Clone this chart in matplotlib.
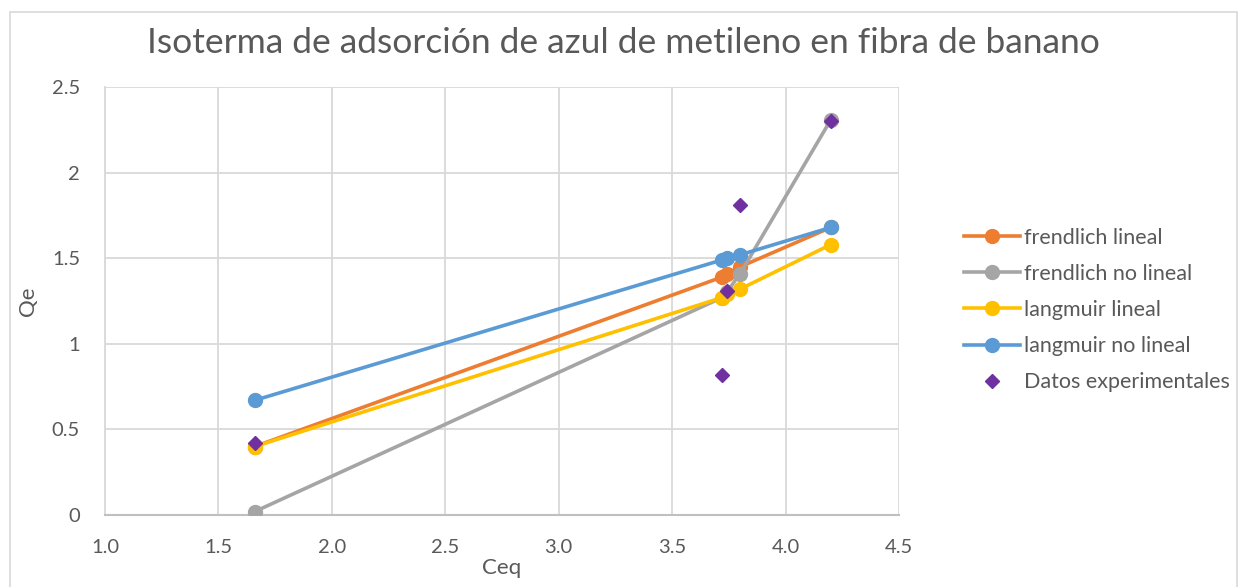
import matplotlib.pyplot as plt
from matplotlib.patches import Rectangle

plt.rcParams['font.family'] = ['Lato', 'DejaVu Sans']

# Data
ceq = [1.66, 3.72, 3.74, 3.80, 4.20]
frendlich_lineal = [0.40, 1.39, 1.41, 1.45, 1.68]
frendlich_no_lineal = [0.02, 1.27, 1.30, 1.41, 2.31]
langmuir_lineal = [0.40, 1.27, 1.29, 1.32, 1.58]
langmuir_no_lineal = [0.67, 1.49, 1.50, 1.52, 1.68]
datos_exp = [0.42, 0.82, 1.31, 1.81, 2.30]

series = [
    ("frendlich lineal", frendlich_lineal, "#ED7D31"),
    ("frendlich no lineal", frendlich_no_lineal, "#A5A5A5"),
    ("langmuir lineal", langmuir_lineal, "#FFC000"),
    ("langmuir no lineal", langmuir_no_lineal, "#5B9BD5"),
]

fig = plt.figure(figsize=(12.47, 5.87), dpi=100)
ax = fig.add_axes([105 / 1247, 1 - 515 / 587, 794 / 1247, 428 / 587])

# chart border
fig.patches.append(Rectangle((10 / 1247, -0.1), 1 - 20 / 1247, 1.1 - 12 / 587,
                             transform=fig.transFigure, fill=False,
                             edgecolor="#d9d9d9", linewidth=1.2))

for name, vals, col in series:
    ax.plot(ceq, vals, color=col, linewidth=2.6, marker="o", markersize=10,
            label=name, zorder=3)
ax.plot(ceq, datos_exp, linestyle="none", marker="D", markersize=7,
        color="#7030A0", label="Datos experimentales", zorder=4)

ax.set_xlim(1.0, 4.5)
ax.set_ylim(0, 2.5)
ax.set_xticks([1.0, 1.5, 2.0, 2.5, 3.0, 3.5, 4.0, 4.5])
ax.set_xticklabels(["1.0", "1.5", "2.0", "2.5", "3.0", "3.5", "4.0", "4.5"])
ax.set_yticks([0, 0.5, 1, 1.5, 2, 2.5])
ax.set_yticklabels(["0", "0.5", "1", "1.5", "2", "2.5"])
ax.grid(True, color="#d9d9d9", linewidth=1.3)
ax.set_axisbelow(True)
for s in ["top", "right"]:
    ax.spines[s].set_visible(False)
ax.spines["left"].set_color("#d9d9d9")
ax.spines["left"].set_linewidth(1.3)
ax.spines["bottom"].set_color("#bfbfbf")
ax.spines["bottom"].set_linewidth(1.5)
ax.tick_params(axis="x", length=0, labelsize=14.5, labelcolor="#595959", pad=17)
ax.tick_params(axis="y", length=0, labelsize=14.5, labelcolor="#595959", pad=18)

ax.set_xlabel("Ceq", fontsize=16, color="#595959", labelpad=2)
ax.set_ylabel("Qe", fontsize=16, color="#595959", labelpad=10)
fig.text(0.5, 1 - 43 / 587, "Isoterma de adsorción de azul de metileno en fibra de banano",
         ha="center", va="center", fontsize=25.5, color="#595959")

leg = ax.legend(loc="center left", bbox_to_anchor=(1.057, 0.479), frameon=False,
                fontsize=15.5, labelcolor="#595959", handlelength=2.6,
                handletextpad=0.2, labelspacing=0.75)

fig.savefig("out.png", dpi=100)
